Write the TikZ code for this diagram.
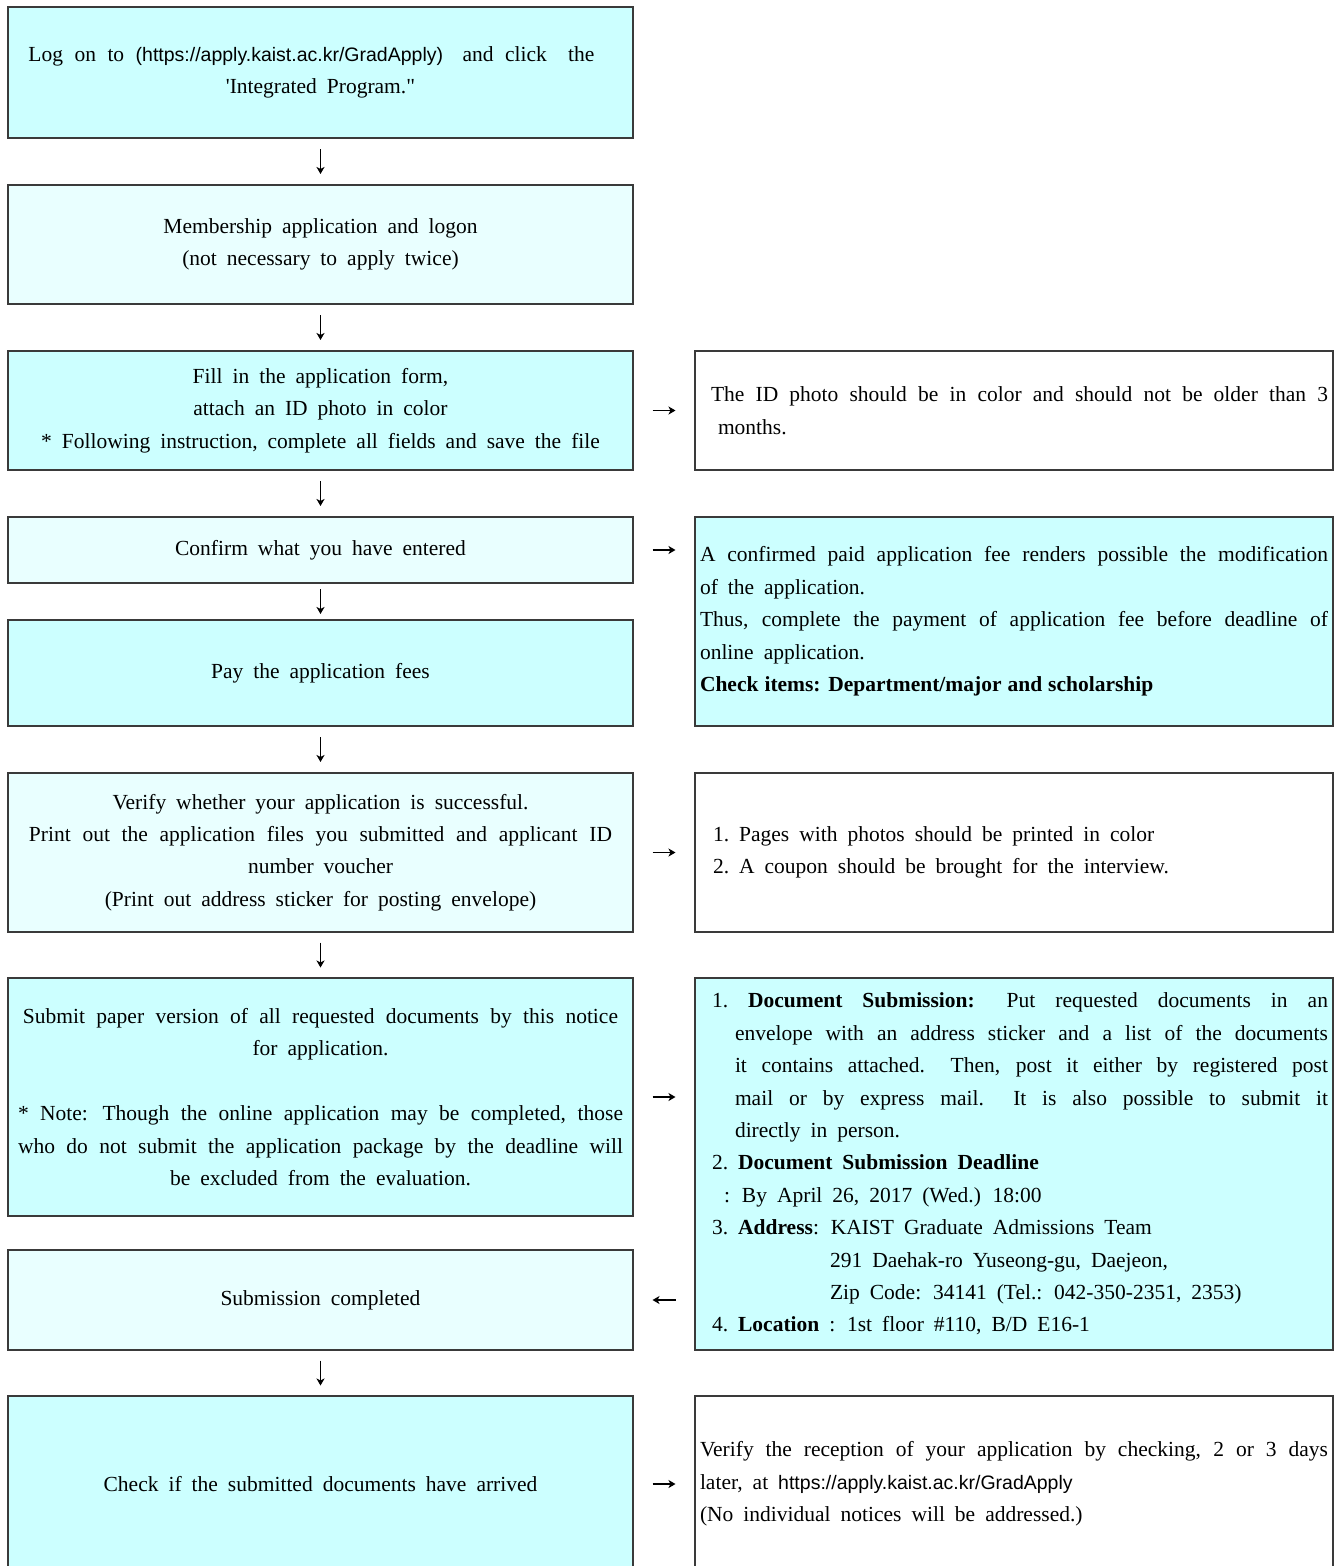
\documentclass[tikz,border=0pt]{standalone}
\usepackage{fontspec}
\setmainfont{Liberation Serif}[Ligatures=TeXOff]
\newfontfamily\urlfont{Liberation Sans}[Ligatures=TeXOff]
\usetikzlibrary{arrows.meta,calc}
\definecolor{cyanA}{HTML}{CCFFFF}
\definecolor{cyanB}{HTML}{E9FFFF}
\definecolor{edgecol}{HTML}{3A3A3A}
\newcommand{\kurl}[1]{{\urlfont\fontsize{19.5}{32.4}\selectfont #1}}
\newcommand{\widespaces}{\spaceskip=10pt plus 6pt minus 3pt\relax}
\tikzset{
  box/.style={draw=edgecol, line width=1.5pt, inner sep=0pt, outer sep=0pt,
    anchor=north west,
    font=\fontsize{21.5}{32.4}\selectfont,
    execute at begin node=\widespaces},
  lbox/.style={box, minimum width=625pt, text width=609pt, align=flush center},
  rbox/.style={box, minimum width=638pt, text width=628pt, align=justify},
  dark/.style={fill=cyanA},
  light/.style={fill=cyanB},
  plain/.style={fill=white},
  varr/.style={draw=black, line width=1.4pt, -{Stealth[length=7pt,width=8pt,inset=2pt]}},
  harr/.style={draw=black, line width=1.6pt, -{Stealth[length=7pt,width=8pt,inset=2pt]}},
}
\begin{document}
\begin{tikzpicture}[x=1pt,y=-1pt]
\path[use as bounding box] (0,0) rectangle (1341,1566);
\clip (0,0) rectangle (1341,1566);
\fill[white] (0,0) rectangle (1341,1566);

% left column
\node[lbox, dark, minimum height=131pt] (b1) at (8,7)
  {\makebox[584pt][l]{\makebox[566pt][s]{Log on to \kurl{(https://apply.kaist.ac.kr/GradApply)}\hspace{8pt} and click\hspace{10pt} the}}\\
   'Integrated Program."};
\node[lbox, light, minimum height=119pt] (b2) at (8,185)
  {Membership application and logon\\(not necessary to apply twice)};
\node[lbox, dark, minimum height=119pt] (b3) at (8,351)
  {Fill in the application form,\\attach an ID photo in color\\{}* Following instruction, complete all fields and save the file};
\node[lbox, light, minimum height=66pt] (b4) at (8,517)
  {Confirm what you have entered};
\node[lbox, dark, minimum height=106pt] (b5) at (8,620)
  {Pay the application fees};
\node[lbox, light, minimum height=159pt] (b6) at (8,773)
  {Verify whether your application is successful.\\
   \makebox[583pt][s]{Print out the application files you submitted and applicant ID}\\
   number voucher\\(Print out address sticker for posting envelope)};
\node[lbox, dark, minimum height=238pt] (b7) at (8,978)
  {\makebox[595pt][s]{Submit paper version of all requested documents by this notice}\\
   for application.\\[32.4pt]
   \makebox[605pt][s]{* Note: Though the online application may be completed, those}\\
   \makebox[605pt][s]{who do not submit the application package by the deadline will}\\
   be excluded from the evaluation.};
\node[lbox, light, minimum height=100pt] (b8) at (8,1250)
  {Submission completed};
\node[lbox, dark, minimum height=176pt] (b9) at (8,1396)
  {Check if the submitted documents have arrived};

% right column
\node[rbox, plain, minimum height=119pt] (r1) at (695,351)
  {\leftskip=11pt The ID photo should be in color and should not be older than 3\linebreak
   \hspace*{7pt}months.\par};
\node[rbox, dark, minimum height=209pt] (r2) at (695,517)
  {A confirmed paid application fee renders possible the modification\linebreak
   of the application.\\
   Thus, complete the payment of application fee before deadline of\linebreak
   online application.\\
   {\spaceskip=6pt\relax\textbf{Check items: Department/major and scholarship}}};
\node[rbox, plain, minimum height=159pt] (r3) at (695,773)
  {\leftskip=13pt 1.\ Pages with photos should be printed in color\\
   2.\ A coupon should be brought for the interview.\par};
\node[rbox, dark, minimum height=372pt] (r4) at (695,978)
  {\leftskip=12pt
   \hangindent=23pt\hangafter=1
   1.\hspace{20pt}\textbf{Document Submission:} Put requested documents in an\linebreak
   envelope with an address sticker and a list of the documents\linebreak
   it contains attached. Then, post it either by registered post\linebreak
   mail or by express mail. It is also possible to submit it\linebreak
   directly in person.\par
   2.\ \textbf{Document Submission Deadline}\par
   \hspace*{12pt}:\hspace{12pt}By April 26, 2017 (Wed.) 18:00\par
   3.\ \textbf{Address}: KAIST Graduate Admissions Team\par
   \hspace*{118pt}291 Daehak-ro Yuseong-gu, Daejeon,\par
   \hspace*{118pt}Zip Code: 34141 (Tel.: 042-350-2351, 2353)\par
   4.\ \textbf{Location} : 1st floor \#110, B/D E16-1\par};
\node[rbox, plain, minimum height=176pt] (r5) at (695,1396)
  {Verify the reception of your application by checking, 2 or 3 days\linebreak
   later, at \kurl{https://apply.kaist.ac.kr/GradApply}\\
   (No individual notices will be addressed.)};

% vertical arrows
\foreach \a/\b in {b1/b2, b2/b3, b3/b4, b4/b5, b5/b6, b6/b7, b8/b9}{
  \draw[varr] ($(\a.south)!.5!(\b.north)+(0,-12.5)$) -- ($(\a.south)!.5!(\b.north)+(0,12.5)$);
}
% horizontal arrows
\draw[harr] ($(b3.east)!.5!(r1.west)+(-11.5,0)$) -- ($(b3.east)!.5!(r1.west)+(11.5,0)$);
\draw[harr] ($(b4.east)!.5!(b4.east -| r2.west)+(-11.5,0)$) -- ($(b4.east)!.5!(b4.east -| r2.west)+(11.5,0)$);
\draw[harr] ($(b6.east)!.5!(r3.west)+(-11.5,0)$) -- ($(b6.east)!.5!(r3.west)+(11.5,0)$);
\draw[harr] ($(b7.east)!.5!(b7.east -| r4.west)+(-11.5,0)$) -- ($(b7.east)!.5!(b7.east -| r4.west)+(11.5,0)$);
\draw[harr] ($(b8.east)!.5!(b8.east -| r4.west)+(11.5,0)$) -- ($(b8.east)!.5!(b8.east -| r4.west)+(-11.5,0)$);
\draw[harr] ($(b9.east)!.5!(r5.west)+(-11.5,0)$) -- ($(b9.east)!.5!(r5.west)+(11.5,0)$);
\end{tikzpicture}
\end{document}
